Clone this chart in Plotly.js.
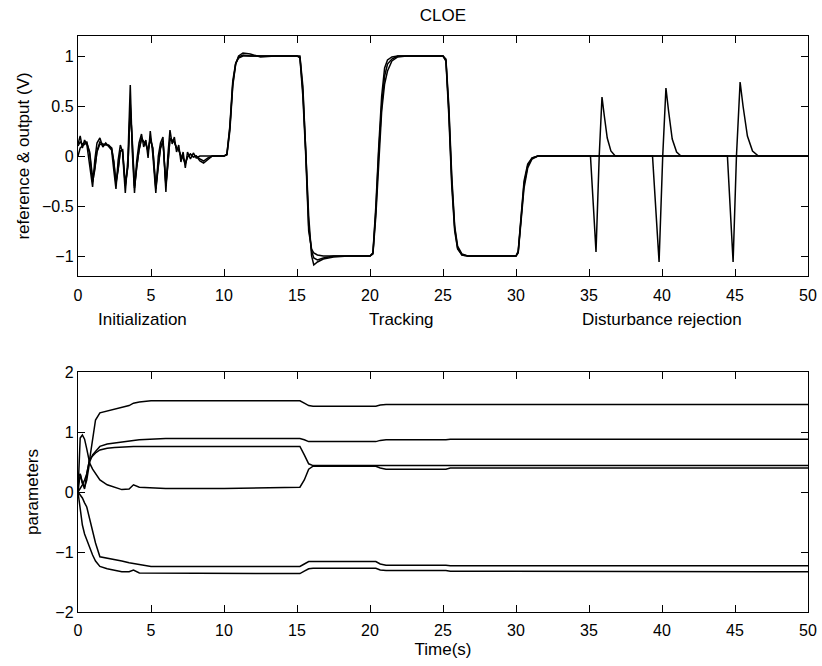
<!DOCTYPE html>
<html>
<head>
<meta charset="utf-8">
<script src="https://cdn.plot.ly/plotly-3.0.1.min.js"></script>
<style>html,body{margin:0;padding:0;background:#fff;}#chart{width:822px;height:666px;}</style>
</head>
<body>
<div id="chart"></div>
<script>
// ---- top panel: time (s) ----
const tTop = [0.0,0.15,0.3,0.45,0.6,0.8,1.0,1.15,1.3,1.5,1.7,1.9,2.1,2.3,2.45,2.6,2.75,2.9,3.05,3.24,3.42,3.58,3.72,3.87,4.02,4.18,4.35,4.5,4.65,4.8,4.95,5.12,5.33,5.5,5.65,5.82,6.02,6.15,6.3,6.45,6.6,6.75,6.9,7.05,7.2,7.35,7.5,7.7,7.9,8.1,8.35,8.6,8.9,9.2,10.0,
  10.2,10.4,10.6,10.8,11.0,11.3,11.8,12.5,13.5,15.0,15.2,15.4,15.6,15.8,16.0,16.15,16.4,16.8,17.5,18.5,20.0,
  20.2,20.4,20.6,20.8,21.0,21.2,21.5,21.9,22.5,25.0,25.2,25.4,25.6,25.8,26.0,26.3,26.7,30.0,
  30.15,30.35,30.55,30.8,31.1,31.5,35.1,35.3,35.48,35.7,35.89,36.05,36.25,36.5,36.8,
  39.35,39.6,39.8,40.05,40.27,40.45,40.7,41.0,41.3,44.48,44.7,44.87,45.1,45.35,45.55,45.85,46.2,46.6,50.0];
// reference (V)
const refSig = [0.12,0.20,0.08,0.16,0.12,-0.08,-0.31,-0.04,0.13,0.18,0.09,0.13,0.10,0.06,-0.14,-0.33,-0.04,0.11,0.04,-0.37,-0.02,0.71,0.04,-0.37,-0.05,0.13,0.22,0.09,0.16,-0.02,0.25,0.02,-0.37,0.00,0.13,0.19,-0.36,0.00,0.26,0.12,0.19,0.04,0.11,-0.06,0.04,-0.12,0.04,-0.03,0.03,-0.02,0.00,0.00,0.00,0.00,0.00,
  0.02,0.30,0.75,0.93,0.98,1.00,1.00,1.00,1.00,1.00,0.98,0.60,0.00,-0.75,-0.93,-0.97,-0.99,-1.00,-1.00,-1.00,-1.00,
  -0.97,-0.50,0.10,0.60,0.88,0.96,0.99,1.00,1.00,1.00,0.95,0.40,-0.30,-0.75,-0.93,-0.99,-1.00,-1.00,
  -0.95,-0.55,-0.25,-0.08,-0.02,0.00,0.00,0.00,0.00,0.00,0.00,0.00,0.00,0.00,0.00,
  0.00,0.00,0.00,0.00,0.00,0.00,0.00,0.00,0.00,0.00,0.00,0.00,0.00,0.00,0.00,0.00,0.00,0.00,0.00];
// plant output (V)
const outSig = [0.10,0.14,0.12,0.13,0.14,0.02,-0.26,-0.14,0.05,0.14,0.12,0.11,0.11,0.08,-0.06,-0.28,-0.14,0.05,0.06,-0.30,-0.10,0.52,0.14,-0.32,-0.12,0.06,0.18,0.14,0.12,0.05,0.18,0.08,-0.33,-0.10,0.08,0.15,-0.30,-0.10,0.18,0.16,0.14,0.08,0.06,0.00,-0.02,-0.08,-0.01,0.02,-0.01,0.00,-0.05,-0.07,-0.03,0.00,0.00,
  0.01,0.25,0.70,0.92,1.00,1.03,1.02,0.99,1.00,1.00,1.00,0.70,0.10,-0.60,-1.00,-1.09,-1.06,-1.03,-1.01,-1.00,-1.00,
  -0.98,-0.60,0.00,0.45,0.72,0.85,0.95,0.99,1.00,1.00,0.97,0.50,-0.20,-0.70,-0.90,-0.98,-1.00,-1.00,
  -0.97,-0.65,-0.32,-0.12,-0.03,0.00,0.00,-0.50,-0.96,0.00,0.59,0.40,0.18,0.05,0.00,
  0.00,-0.55,-1.06,0.00,0.68,0.45,0.17,0.04,0.00,0.00,-0.60,-1.06,0.00,0.74,0.50,0.20,0.05,0.00,0.00];
// model output (V)
const modSig = [0.00,0.08,0.10,0.12,0.13,0.04,-0.22,-0.12,0.04,0.12,0.11,0.12,0.10,0.08,-0.05,-0.26,-0.13,0.05,0.06,-0.28,-0.10,0.48,0.15,-0.30,-0.11,0.06,0.17,0.14,0.12,0.05,0.17,0.08,-0.31,-0.09,0.08,0.15,-0.28,-0.09,0.17,0.15,0.14,0.08,0.06,0.00,-0.02,-0.07,-0.01,0.02,-0.01,0.00,-0.03,-0.05,-0.02,0.00,0.00,
  0.02,0.28,0.72,0.92,0.99,1.01,1.00,1.00,1.00,1.00,0.99,0.65,0.05,-0.70,-0.95,-1.02,-1.04,-1.02,-1.00,-1.00,-1.00,
  -0.97,-0.55,0.05,0.50,0.80,0.92,0.97,1.00,1.00,1.00,0.96,0.45,-0.25,-0.72,-0.92,-0.99,-1.00,-1.00,
  -0.96,-0.60,-0.28,-0.10,-0.02,0.00,0.00,0.00,0.00,0.00,0.00,0.00,0.00,0.00,0.00,
  0.00,0.00,0.00,0.00,0.00,0.00,0.00,0.00,0.00,0.00,0.00,0.00,0.00,0.00,0.00,0.00,0.00,0.00,0.00];

// ---- bottom panel: parameter estimates ----
const tBot = [0,0.15,0.3,0.45,0.6,0.8,1.0,1.2,1.5,2.0,2.5,3.0,3.5,3.8,4.2,5.0,6.0,10.0,15.2,15.5,15.8,16.1,20.4,20.7,21.1,25.2,25.5,50];
const par1 = [0,0.05,0.12,0.2,0.3,0.55,0.9,1.2,1.32,1.35,1.38,1.42,1.44,1.48,1.5,1.52,1.52,1.52,1.52,1.48,1.44,1.43,1.43,1.45,1.46,1.46,1.46,1.46];
const par2 = [0.25,0.3,0.15,0.08,0.2,0.5,0.62,0.68,0.76,0.8,0.82,0.84,0.86,0.86,0.87,0.88,0.89,0.89,0.89,0.87,0.84,0.84,0.84,0.86,0.87,0.87,0.88,0.88];
const par3 = [0,0.3,0.15,0.05,0.3,0.55,0.6,0.65,0.7,0.73,0.74,0.75,0.75,0.76,0.76,0.76,0.76,0.76,0.76,0.62,0.47,0.44,0.44,0.45,0.45,0.45,0.44,0.44];
const par4 = [0,0.9,0.95,0.88,0.72,0.48,0.38,0.3,0.2,0.12,0.08,0.04,0.05,0.12,0.08,0.07,0.06,0.06,0.08,0.2,0.38,0.43,0.43,0.40,0.38,0.38,0.40,0.40];
const par5 = [0,-0.05,-0.1,-0.18,-0.25,-0.45,-0.65,-0.85,-1.08,-1.1,-1.12,-1.15,-1.18,-1.19,-1.21,-1.24,-1.24,-1.24,-1.24,-1.2,-1.16,-1.16,-1.16,-1.2,-1.22,-1.22,-1.23,-1.23];
const par6 = [0,-0.3,-0.55,-0.7,-0.8,-0.95,-1.05,-1.15,-1.24,-1.28,-1.31,-1.33,-1.33,-1.30,-1.35,-1.35,-1.35,-1.35,-1.36,-1.32,-1.28,-1.27,-1.27,-1.3,-1.31,-1.31,-1.32,-1.33];

const phaseLabels = ["Initialization","Tracking","Disturbance rejection"];
const phaseX = [4.45,22.15,40.0];

const FONT = "Liberation Sans, Arial, Helvetica, sans-serif";
const lineStyle = {color:"#000", width:1.5};

const traces = [];
[refSig,outSig,modSig].forEach(s => traces.push({x:tTop,y:s,xaxis:"x",yaxis:"y",mode:"lines",line:lineStyle,hoverinfo:"skip"}));
[par1,par2,par3,par4,par5,par6].forEach(s => traces.push({x:tBot,y:s,xaxis:"x2",yaxis:"y2",mode:"lines",line:lineStyle,hoverinfo:"skip"}));

const axisCommon = {
  showline:true, linecolor:"#000", linewidth:1.2, mirror:"allticks",
  ticks:"inside", ticklen:7, tickwidth:1, tickcolor:"#000",
  showgrid:false, zeroline:false,
  tickfont:{family:FONT,size:16,color:"#000"}
};

const layout = {
  width:822, height:666,
  paper_bgcolor:"#fff", plot_bgcolor:"#fff",
  showlegend:false,
  margin:{l:78,r:14,t:36,b:54},
  font:{family:FONT,color:"#000"},
  title:{text:"CLOE", font:{family:FONT,size:17,color:"#000"}, x:0.5, xref:"paper", y:1-15/666, yref:"container", yanchor:"middle"},
  xaxis:Object.assign({}, axisCommon, {domain:[0,1], range:[0,50], dtick:5, tick0:0, anchor:"y", ticklabelstandoff:5}),
  yaxis:Object.assign({}, axisCommon, {domain:[336/576,1], range:[-1.2,1.2], dtick:0.5, tick0:0, anchor:"x",
    title:{text:"reference &amp; output (V)", font:{family:FONT,size:17,color:"#000"}, standoff:8}}),
  xaxis2:Object.assign({}, axisCommon, {domain:[0,1], range:[0,50], dtick:5, tick0:0, anchor:"y2", ticklabelstandoff:4,
    title:{text:"Time(s)", font:{family:FONT,size:17,color:"#000"}, standoff:4}}),
  yaxis2:Object.assign({}, axisCommon, {domain:[0,240/576], range:[-2,2], dtick:1, tick0:0, anchor:"x2",
    title:{text:"parameters", font:{family:FONT,size:17,color:"#000"}, standoff:12}}),
  annotations: phaseLabels.map((txt,i)=>({
    text:txt, x:phaseX[i], xref:"x", y:(612-319)/576, yref:"paper",
    xanchor:"center", yanchor:"middle", showarrow:false,
    font:{family:FONT,size:17,color:"#000"}
  }))
};

Plotly.newPlot("chart", traces, layout, {staticPlot:true, displayModeBar:false});
</script>
</body>
</html>
